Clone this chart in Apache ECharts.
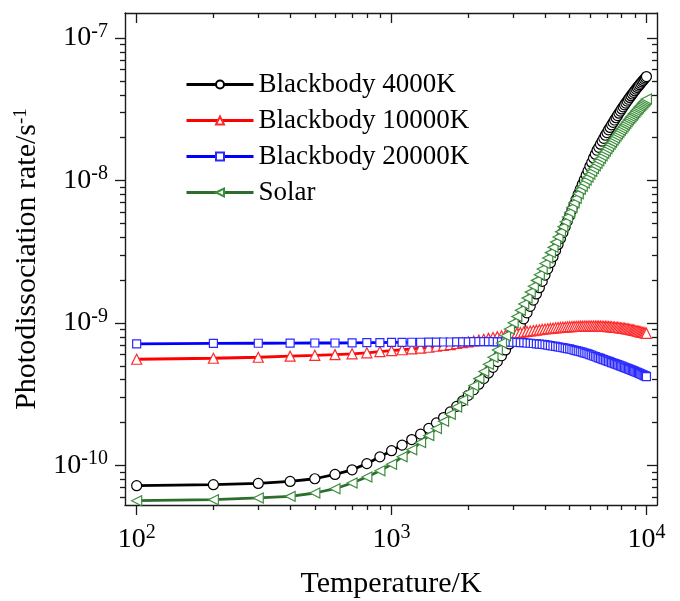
<!DOCTYPE html>
<html>
<head>
<meta charset="utf-8">
<script src="https://cdn.jsdelivr.net/npm/echarts@6/dist/echarts.min.js"></script>
<style>
  html, body { margin: 0; padding: 0; background: #ffffff; }
  #chart { width: 680px; height: 601px; }
</style>
</head>
<body>
<div id="chart"></div>
<script>
// Gas temperature grid, K
const temperatures = [
  100, 200, 300, 400, 500, 600, 700, 800, 900, 1000,
  1100, 1200, 1300, 1400, 1500, 1600, 1700, 1800, 1900, 2000,
  2100, 2200, 2300, 2400, 2500, 2600, 2700, 2800, 2900, 3000,
  3100, 3200, 3300, 3400, 3500, 3600, 3700, 3800, 3900, 4000,
  4100, 4200, 4300, 4400, 4500, 4600, 4700, 4800, 4900, 5000,
  5100, 5200, 5300, 5400, 5500, 5600, 5700, 5800, 5900, 6000,
  6100, 6200, 6300, 6400, 6500, 6600, 6700, 6800, 6900, 7000,
  7100, 7200, 7300, 7400, 7500, 7600, 7700, 7800, 7900, 8000,
  8100, 8200, 8300, 8400, 8500, 8600, 8700, 8800, 8900, 9000,
  9100, 9200, 9300, 9400, 9500, 9600, 9700, 9800, 9900, 10000
];

// Photodissociation rates, in units of 1e-10 s^-1
const RATE_UNIT = 1e-10;

const blackbody4000 = [
  0.721, 0.733, 0.748, 0.773, 0.807, 0.865, 0.933, 1.03, 1.15, 1.27,
  1.39, 1.52, 1.66, 1.82, 1.99, 2.17, 2.38, 2.60, 2.84, 3.11,
  3.40, 3.72, 4.07, 4.46, 4.89, 5.36, 5.89, 6.47, 7.13, 7.87,
  8.71, 9.64, 10.7, 11.8, 13.1, 14.5, 16.0, 17.7, 19.6, 21.7,
  24.0, 26.5, 29.2, 32.3, 35.6, 39.2, 43.1, 47.3, 51.9, 56.8,
  62.1, 67.8, 73.8, 80.2, 86.9, 94.0, 101, 109, 117, 126,
  134, 144, 153, 163, 171, 180, 189, 198, 208, 217,
  227, 236, 246, 256, 266, 276, 286, 297, 307, 318,
  329, 340, 350, 361, 372, 383, 394, 405, 416, 427,
  438, 450, 460, 471, 482, 493, 504, 515, 526, 537
];

const blackbody10000 = [
  5.57, 5.66, 5.75, 5.85, 5.93, 6.00, 6.08, 6.18, 6.30, 6.40,
  6.49, 6.58, 6.67, 6.76, 6.87, 6.97, 7.06, 7.18, 7.28, 7.38,
  7.48, 7.59, 7.69, 7.80, 7.91, 8.02, 8.13, 8.22, 8.32, 8.41,
  8.49, 8.57, 8.65, 8.73, 8.79, 8.85, 8.91, 8.97, 9.04, 9.08,
  9.12, 9.16, 9.20, 9.25, 9.29, 9.31, 9.35, 9.38, 9.40, 9.42,
  9.44, 9.46, 9.48, 9.48, 9.51, 9.51, 9.53, 9.53, 9.53, 9.53,
  9.53, 9.53, 9.53, 9.51, 9.51, 9.51, 9.48, 9.48, 9.46, 9.46,
  9.44, 9.42, 9.40, 9.38, 9.35, 9.33, 9.31, 9.29, 9.25, 9.23,
  9.20, 9.16, 9.14, 9.10, 9.08, 9.04, 8.99, 8.95, 8.91, 8.87,
  8.83, 8.79, 8.75, 8.71, 8.67, 8.63, 8.59, 8.55, 8.51, 8.47
];

const blackbody20000 = [
  7.13, 7.19, 7.21, 7.23, 7.24, 7.24, 7.26, 7.28, 7.29, 7.31,
  7.31, 7.33, 7.33, 7.35, 7.35, 7.36, 7.36, 7.38, 7.38, 7.38,
  7.40, 7.40, 7.40, 7.40, 7.40, 7.38, 7.38, 7.36, 7.35, 7.33,
  7.31, 7.29, 7.28, 7.24, 7.21, 7.18, 7.14, 7.11, 7.08, 7.05,
  7.00, 6.95, 6.90, 6.85, 6.81, 6.76, 6.71, 6.67, 6.62, 6.58,
  6.52, 6.46, 6.41, 6.35, 6.30, 6.24, 6.18, 6.12, 6.07, 6.00,
  5.94, 5.87, 5.82, 5.75, 5.69, 5.64, 5.58, 5.53, 5.48, 5.43,
  5.38, 5.33, 5.28, 5.24, 5.19, 5.14, 5.11, 5.06, 5.01, 4.98,
  4.93, 4.89, 4.85, 4.81, 4.76, 4.73, 4.69, 4.65, 4.61, 4.57,
  4.53, 4.50, 4.46, 4.43, 4.39, 4.35, 4.32, 4.28, 4.25, 4.21
];

const solar = [
  0.566, 0.575, 0.592, 0.607, 0.641, 0.687, 0.753, 0.830, 0.918, 1.02,
  1.15, 1.29, 1.45, 1.62, 1.82, 2.04, 2.29, 2.57, 2.88, 3.24,
  3.63, 4.07, 4.57, 5.13, 5.75, 6.46, 7.24, 8.13, 9.08, 10.05,
  11.12, 12.30, 13.58, 14.96, 16.48, 18.11, 19.91, 21.83, 23.93, 26.18,
  28.58, 31.19, 33.96, 36.98, 40.18, 43.65, 47.32, 51.29, 55.46, 59.98,
  64.71, 69.82, 75.16, 80.72, 86.70, 91.3, 96.0, 100.9, 105.8, 110.9,
  116.1, 121.4, 126.8, 132.3, 137.9, 143.6, 149.4, 155.3, 161.3, 167.4,
  173.5, 179.7, 186.0, 192.4, 198.9, 205.4, 212.0, 218.6, 225.3, 232.0,
  238.9, 245.8, 252.6, 259.6, 266.6, 273.6, 280.6, 287.7, 294.8, 301.9,
  309.0, 316.2, 323.3, 330.4, 337.6, 344.7, 351.9, 358.9, 366.0, 373.1
];

const seriesNames = ['Blackbody 4000K', 'Blackbody 10000K', 'Blackbody 20000K', 'Solar'];

// Tick positions on the two logarithmic axes
const xMajorTicks = [100, 1000, 10000];
const xMinorTicks = [200, 300, 400, 500, 600, 700, 800, 900,
                     2000, 3000, 4000, 5000, 6000, 7000, 8000, 9000];
const yMajorTicks = [1e-10, 1e-9, 1e-8, 1e-7];
const yMinorTicks = [6e-11, 7e-11, 8e-11, 9e-11,
                     2e-10, 3e-10, 4e-10, 5e-10, 6e-10, 7e-10, 8e-10, 9e-10,
                     2e-9, 3e-9, 4e-9, 5e-9, 6e-9, 7e-9, 8e-9, 9e-9,
                     2e-8, 3e-8, 4e-8, 5e-8, 6e-8, 7e-8, 8e-8, 9e-8];

const X_RANGE = [90, 11000];
const Y_RANGE = [5.28e-11, 1.5e-7];

const FONT = 'Liberation Serif';
const AXIS_COLOR = '#1a1a1a';

function powerLabel(value) {
  return '10{sup|' + Math.round(Math.log10(value)) + '}';
}

const labelRich = {
  sup: { fontSize: 20, fontFamily: FONT, color: '#000', verticalAlign: 'top', padding: [0, 0, 13, 0] }
};

// One logarithmic axis layer: either the labelled main axis, a mirrored frame side or a minor-tick layer
function logAxis(range, position, opts) {
  return {
    type: 'log',
    logBase: 10,
    min: range[0],
    max: range[1],
    position: position,
    gridIndex: 0,
    splitLine: { show: false },
    axisLine: { show: !!opts.line, onZero: false, lineStyle: { color: AXIS_COLOR, width: 1.4 } },
    axisTick: {
      show: true,
      inside: !!opts.inside,
      length: opts.tickLength,
      customValues: opts.ticks,
      lineStyle: { color: AXIS_COLOR, width: 1.3 }
    },
    minorTick: { show: false },
    axisLabel: opts.labels ? {
      show: true,
      customValues: opts.ticks,
      formatter: powerLabel,
      fontFamily: FONT,
      fontSize: 28,
      color: '#000',
      margin: opts.margin,
      rich: labelRich
    } : { show: false },
    name: opts.name || '',
    nameLocation: 'middle',
    nameGap: opts.nameGap || 0,
    nameRotate: opts.nameRotate,
    nameTextStyle: {
      fontFamily: FONT,
      fontSize: 30,
      color: '#000',
      rich: {
        sup: { fontSize: 19, fontFamily: FONT, color: '#000', verticalAlign: 'top', padding: [0, 0, 12, 0] }
      }
    },
    silent: true
  };
}

const xAxes = [
  logAxis(X_RANGE, 'bottom', { line: true, ticks: xMajorTicks, tickLength: 10, labels: true, margin: 18,
                               name: 'Temperature/K', nameGap: 64 }),
  logAxis(X_RANGE, 'top', { line: true, inside: true, ticks: xMajorTicks, tickLength: 10 }),
  logAxis(X_RANGE, 'bottom', { ticks: xMinorTicks, tickLength: 5 }),
  logAxis(X_RANGE, 'top', { inside: true, ticks: xMinorTicks, tickLength: 5 })
];

const yAxes = [
  logAxis(Y_RANGE, 'left', { line: true, ticks: yMajorTicks, tickLength: 10, labels: true, margin: 17,
                             name: 'Photodissociation rate/s{sup|-1}', nameGap: 81, nameRotate: 90 }),
  logAxis(Y_RANGE, 'right', { line: true, inside: true, ticks: yMajorTicks, tickLength: 10 }),
  logAxis(Y_RANGE, 'left', { ticks: yMinorTicks, tickLength: 5 }),
  logAxis(Y_RANGE, 'right', { inside: true, ticks: yMinorTicks, tickLength: 5 })
];

function lineSeries(name, values, lineColor, markerColor, symbol, size, rotate) {
  return {
    name: name,
    type: 'line',
    xAxisIndex: 0,
    yAxisIndex: 0,
    data: temperatures.map((t, i) => [t, values[i] * RATE_UNIT]),
    symbol: symbol,
    symbolSize: size,
    symbolRotate: rotate || 0,
    showAllSymbol: true,
    lineStyle: { color: lineColor, width: 2.8 },
    itemStyle: { color: '#ffffff', borderColor: markerColor, borderWidth: 1.2 },
    emphasis: { disabled: true },
    animation: false
  };
}

const series = [
  lineSeries(seriesNames[0], blackbody4000, '#000000', '#000000', 'circle', 10),
  lineSeries(seriesNames[1], blackbody10000, '#ff0000', '#ff2a2a', 'triangle', 10),
  lineSeries(seriesNames[2], blackbody20000, '#0000ff', '#2a2aff', 'rect', 8),
  lineSeries(seriesNames[3], solar, '#2d6e2d', '#3d8f3d', 'triangle', 10, 90)
];

const chart = echarts.init(document.getElementById('chart'), null, { renderer: 'canvas' });
chart.setOption({
  animation: false,
  backgroundColor: '#ffffff',
  grid: {
    left: 125, right: 23, top: 13, bottom: 96,
    containLabel: false,
    outerBoundsMode: 'none'
  },
  legend: {
    data: seriesNames,
    orient: 'vertical',
    left: 180,
    top: 66,
    itemWidth: 67,
    itemHeight: 10,
    itemGap: 9,
    lineStyle: { width: 3 },
    textStyle: { fontFamily: FONT, fontSize: 27, color: '#000' },
    selectedMode: false
  },
  xAxis: xAxes,
  yAxis: yAxes,
  series: series
});
</script>
</body>
</html>
